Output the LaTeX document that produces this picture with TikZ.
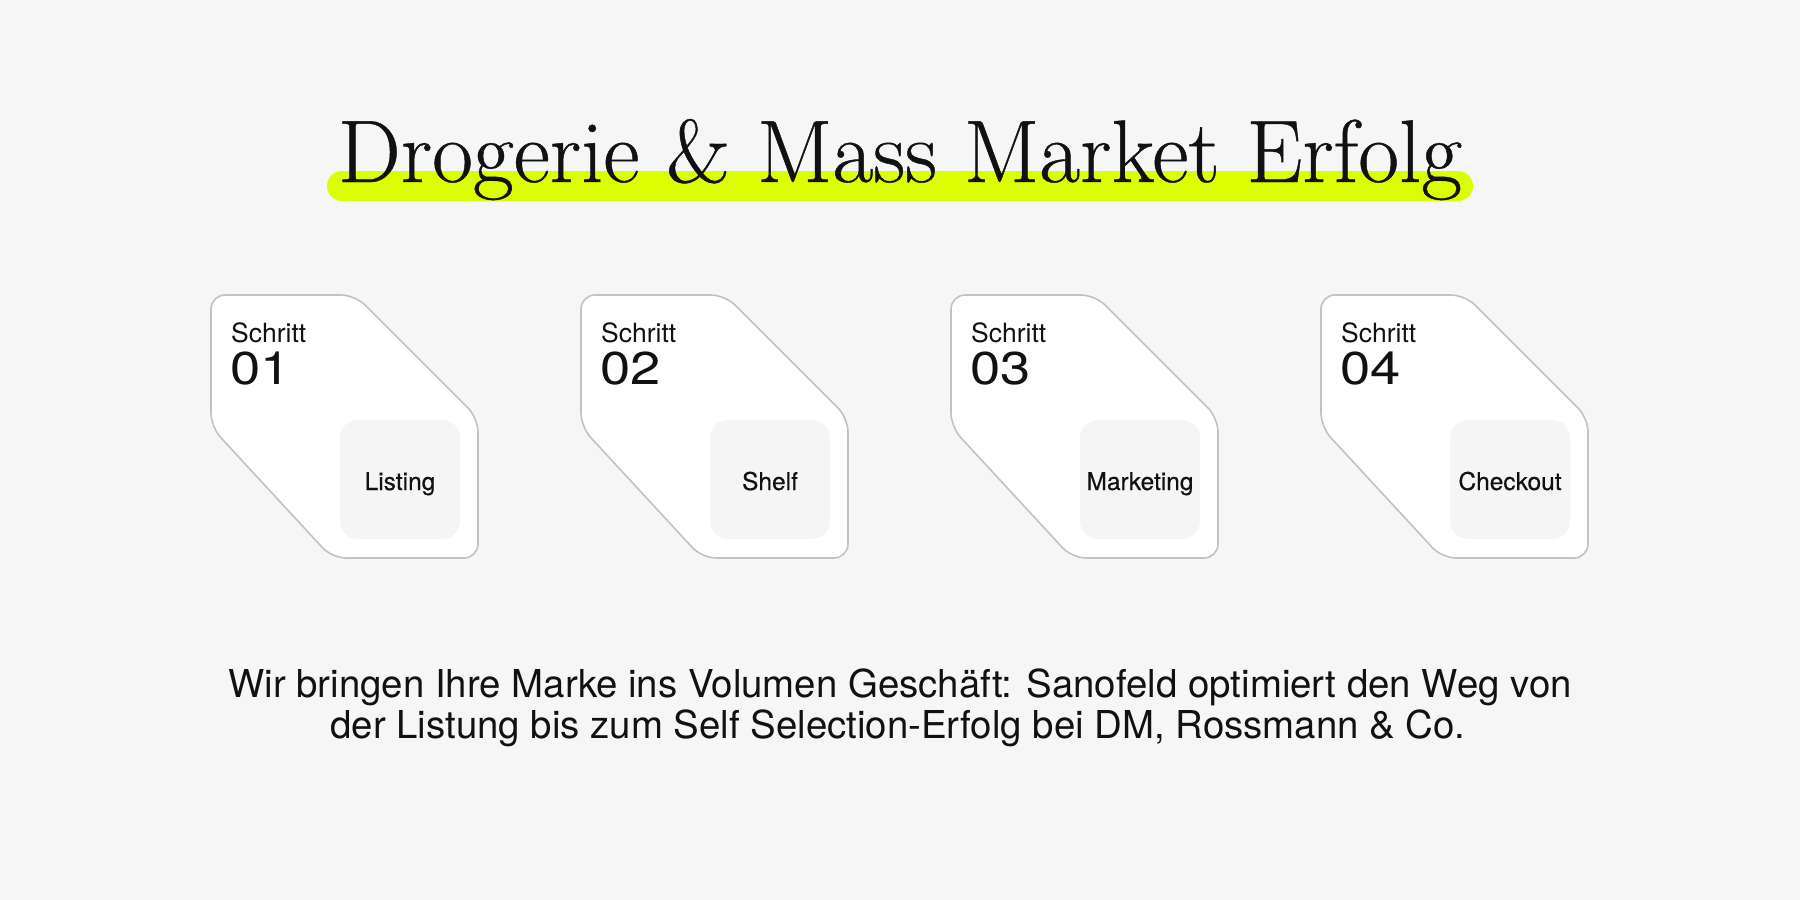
\documentclass[tikz,border=0pt]{standalone}
\usepackage{fontspec}
\newfontfamily\sansf{TeX Gyre Heros}
\newfontfamily\numf[FakeStretch=1.18]{TeX Gyre Heros}
\newfontfamily\labelf[FakeBold=0.4]{TeX Gyre Heros}
\newfontfamily\titlef[FakeBold=0.5]{lmroman17-regular.otf}
\definecolor{bg}{HTML}{F6F6F6}
\definecolor{hl}{HTML}{DBFF00}
\definecolor{ink}{HTML}{111111}
\definecolor{cardline}{HTML}{C2C2C2}
\definecolor{innerfill}{HTML}{F5F5F5}
\tikzset{
  cardshape/.style={draw=cardline, line width=1.6pt, fill=white, rounded corners=14pt},
  innerbox/.style={fill=innerfill, rounded corners=18pt},
  steptext/.style={anchor=base west, inner sep=0pt, text=ink, font=\sansf\fontsize{26.5}{29}\selectfont},
  numtext/.style={anchor=base west, inner sep=0pt, text=ink, font=\numf\fontsize{46}{50}\selectfont},
  labeltext/.style={anchor=base, inner sep=0pt, text=ink, font=\labelf\fontsize{24.5}{27}\selectfont},
  bodytext/.style={anchor=base, inner sep=0pt, text=ink, font=\sansf\fontsize{38.4}{41}\selectfont}
}
\begin{document}
\begin{tikzpicture}[x=1pt,y=-1pt]
\useasboundingbox[fill=bg] (0,0) rectangle (1800,900);
\fill[hl, rounded corners=15pt] (327,171) rectangle (1473,201);
\node[anchor=base, inner sep=0pt, text=ink, font=\titlef\fontsize{88.8}{92}\selectfont] (title) at (900,182) {Drogerie \& Mass Market Erfolg};
\foreach \i/\n/\lab in {0/01/Listing,1/02/Shelf,2/03/Marketing,3/04/Checkout} {
  \begin{scope}[shift={(211+370*\i,295)}]
    \draw[cardshape] (0,60) -- (0,0) -- (144,0) -- (267,123) -- (267,263) -- (121,263) -- (0,132) -- cycle;
    \fill[innerbox] (129,125) rectangle (249,244);
    \node[steptext] (s\i) at (20,47) {Schritt};
    \node[numtext] (n\i) at (19,89) {\n};
    \node[labeltext] (l\i) at (189,195) {\lab};
  \end{scope}
}
\node[bodytext] (line1) at (900,697) {Wir bringen Ihre Marke ins Volumen Geschäft: Sanofeld optimiert den Weg von};
\node[bodytext] (line2) at (898,738) {der Listung bis zum Self Selection-Erfolg bei DM, Rossmann \& Co.};
\end{tikzpicture}
\end{document}
